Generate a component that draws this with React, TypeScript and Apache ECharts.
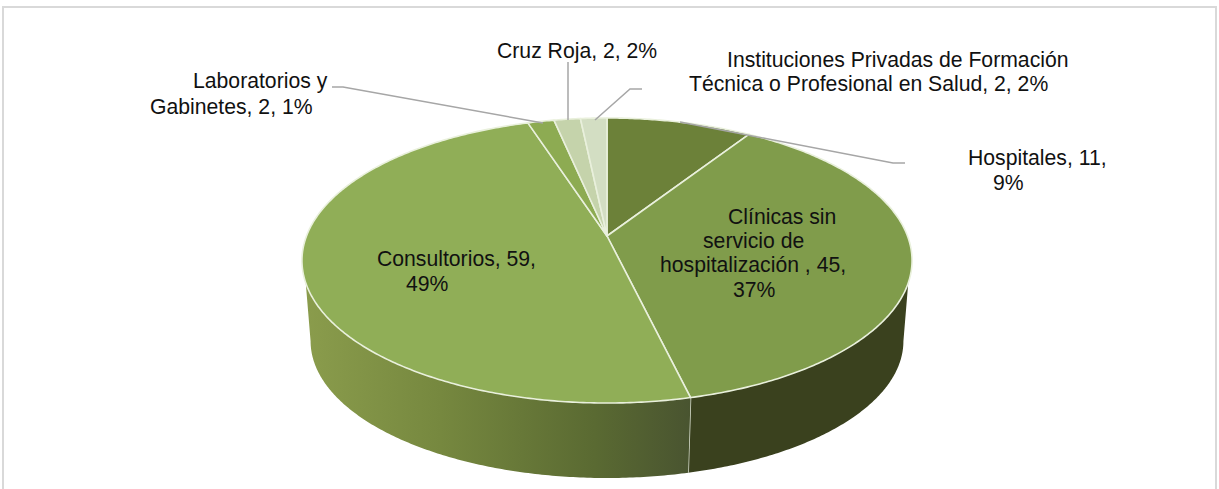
import React, { useEffect, useRef } from "react";
import * as echarts from "echarts";

const categories = [
  "Hospitales",
  "Clínicas sin servicio de hospitalización",
  "Consultorios",
  "Laboratorios y Gabinetes",
  "Cruz Roja",
  "Instituciones Privadas de Formación Técnica o Profesional en Salud",
];
const values = [11, 45, 59, 2, 2, 2];
const topColors = ["#6c8139", "#809c4b", "#90ae57", "#8dab52", "#c5d3ab", "#d3dec3"];
const sideColors: any[] = [
  "#3b421f",
  "#3a411e",
  {
    type: "linear", x: 0, y: 0, x2: 1, y2: 0,
    colorStops: [
      { offset: 0, color: "#8a9c4c" },
      { offset: 0.35, color: "#76883f" },
      { offset: 0.75, color: "#5a6a32" },
      { offset: 1, color: "#495430" },
    ],
  },
  "#4a5530", "#4a5530", "#4a5530",
];

// [text, left x, middle y]
const labelLines: [string, number, number][] = [
  ["Cruz Roja, 2, 2%", 497, 50],
  ["Instituciones Privadas de Formación", 727, 59],
  ["Técnica o Profesional en Salud, 2, 2%", 689, 83],
  ["Laboratorios y", 193, 80],
  ["Gabinetes, 2, 1%", 150, 106],
  ["Hospitales, 11,", 968, 157],
  ["9%", 993, 182],
  ["Clínicas sin", 728, 216],
  ["servicio de", 703, 240],
  ["hospitalización , 45,", 660, 264],
  ["37%", 733, 289],
  ["Consultorios, 59,", 377, 258],
  ["49%", 406, 283],
];
const leaderLines: number[][][] = [
  [[332, 87], [343, 87], [543, 123]],
  [[568, 62], [568, 120]],
  [[642, 89], [630, 89], [595, 120]],
  [[680, 122], [893, 163], [905, 163]],
];

const total = values.reduce((a, b) => a + b, 0);
const CX = 607;
const PERSP = -0.172;
const TOP = { m: 300.5, cy: 236, k: 138.3 };
const BOTTOM = { m: 292, cy: 317.5, k: 132.9 };
const SIDE_FROM = (108.7 * Math.PI) / 180;
const SIDE_TO = (251.3 * Math.PI) / 180;
const BOTTOM_FROM = (100 * Math.PI) / 180;
const BOTTOM_TO = (260 * Math.PI) / 180;

const project = (a: number, p: { m: number; cy: number; k: number }) => {
  const x = Math.sin(a);
  const y = -Math.cos(a);
  const d = 1 + PERSP * y;
  return [CX + (p.m * x) / d, p.cy + (p.k * y) / d];
};
const arc = (a0: number, a1: number, p: any) => {
  const pts: number[][] = [];
  const n = Math.max(2, Math.ceil(Math.abs(a1 - a0) / 0.01));
  for (let i = 0; i <= n; i++) pts.push(project(a0 + ((a1 - a0) * i) / n, p));
  return pts;
};
const sliceAngles = (index: number) => {
  const before = values.slice(0, index).reduce((a, b) => a + b, 0);
  return [(before / total) * 2 * Math.PI, ((before + values[index]) / total) * 2 * Math.PI];
};

const renderTop = (params: any, api: any) => {
  const [a0, a1] = sliceAngles(params.dataIndex);
  const points = [[CX, TOP.cy], ...arc(a0, a1, TOP)];
  return {
    type: "polygon",
    shape: { points },
    style: { fill: topColors[params.dataIndex], stroke: "#e9f0dc", lineWidth: 1.6, lineJoin: "round" },
  };
};
const renderSide = (params: any) => {
  const [a0, a1] = sliceAngles(params.dataIndex);
  const s = Math.max(a0, SIDE_FROM);
  const e = Math.min(a1, SIDE_TO);
  if (e <= s) return { type: "group", children: [] };
  const bs = s === SIDE_FROM ? BOTTOM_FROM : s;
  const be = e === SIDE_TO ? BOTTOM_TO : e;
  const points = [...arc(s, e, TOP), ...arc(be, bs, BOTTOM)];
  const children: any[] = [
    { type: "polygon", shape: { points }, style: { fill: sideColors[params.dataIndex] } },
  ];
  if (e < SIDE_TO) {
    children.push({
      type: "line",
      shape: {
        x1: project(e, TOP)[0], y1: project(e, TOP)[1],
        x2: project(e, BOTTOM)[0], y2: project(e, BOTTOM)[1],
      },
      style: { stroke: "#d9dfcf", lineWidth: 1.5 },
    });
  }
  return { type: "group", children };
};

export default function App() {
  const ref = useRef<HTMLDivElement>(null);
  useEffect(() => {
    const chart = echarts.init(ref.current!, null, { renderer: "svg" });
    const data = categories.map((name, i) => ({ name, value: values[i] }));
    chart.setOption({
      animation: false,
      backgroundColor: "#ffffff",
      graphic: [
        {
          type: "polyline",
          shape: { points: [[3, 489], [3, 7], [1216, 7], [1216, 489]] },
          style: { fill: "none", stroke: "#d9d9d9", lineWidth: 2 },
          z: 1,
        },
        ...leaderLines.map((points) => ({
          type: "polyline",
          shape: { points },
          style: { fill: "none", stroke: "#a6a6a6", lineWidth: 1.5 },
          z: 5,
        })),
        ...labelLines.map(([text, x, y]) => ({
          type: "text",
          x,
          y,
          style: {
            text,
            fill: "#111111",
            font: '21.2px "Liberation Sans", Arial, sans-serif',
            textAlign: "left",
            textVerticalAlign: "middle",
          },
          z: 6,
        })),
      ],
      series: [
        { type: "custom", coordinateSystem: "none", renderItem: renderSide, data, z: 2, silent: true },
        { type: "custom", coordinateSystem: "none", renderItem: renderTop, data, z: 3, silent: true },
      ],
    });
    return () => chart.dispose();
  }, []);
  return <div ref={ref} style={{ position: "absolute", left: 0, top: 0, width: 1219, height: 489 }} />;
}
